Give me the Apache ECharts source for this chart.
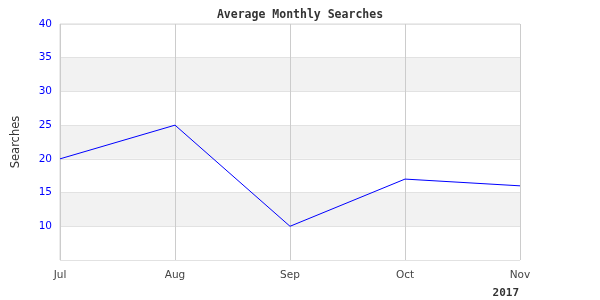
<!DOCTYPE html>
<html><head><meta charset="utf-8">
<script src="https://cdn.jsdelivr.net/npm/echarts@6/dist/echarts.min.js"></script>
<style>html,body{margin:0;padding:0;background:#fff}#c{width:600px;height:300px}</style>
</head><body><div id="c"></div>
<script>
const categories = ['Jul', 'Aug', 'Sep', 'Oct', 'Nov'];
const searches = [20, 25, 10, 17, 16];
const yearLabel = '2017';
const chartTitle = 'Average Monthly Searches';
const yName = 'Searches';

const chart = echarts.init(document.getElementById('c'), null, {renderer: 'canvas'});
chart.setOption({
  animation: false,
  backgroundColor: '#fff',
  title: {
    text: chartTitle, left: 'center', top: 4,
    textStyle: {fontFamily: 'DejaVu Sans Mono', fontSize: 11.5, fontWeight: 'bold', color: '#333'}
  },
  grid: {left: 60, right: 80, top: 24, bottom: 40, show: true, borderColor: '#d8d8d8', borderWidth: 1},
  xAxis: {
    type: 'category', data: categories, boundaryGap: false,
    axisLine: {show: false}, axisTick: {show: false},
    axisLabel: {color: '#444', fontFamily: 'DejaVu Sans', fontSize: 10.5, margin: 10},
    splitLine: {show: true, lineStyle: {color: '#cccccc', width: 1}}
  },
  yAxis: {
    type: 'value', min: 5, max: 40, interval: 5,
    name: yName, nameLocation: 'middle', nameGap: 38, nameRotate: 90,
    nameTextStyle: {color: '#333', fontFamily: 'DejaVu Sans', fontSize: 11.5},
    axisLine: {show: false}, axisTick: {show: false},
    axisLabel: {color: '#0000ff', fontFamily: 'DejaVu Sans', fontSize: 10.5, margin: 8,
      formatter: v => (v === 5 ? '' : String(v))},
    splitLine: {show: true, lineStyle: {color: '#e2e2e2', width: 1}},
    splitArea: {show: true, areaStyle: {color: ['#ffffff', '#f2f2f2']}}
  },
  series: [{
    type: 'line', data: searches, showSymbol: false, symbol: 'none',
    lineStyle: {color: '#0000ff', width: 1}
  }],
  graphic: [{
    type: 'text', right: 81, bottom: 1,
    style: {text: yearLabel, font: 'bold 11px "DejaVu Sans Mono"', fill: '#333'}
  }]
});
</script></body></html>
